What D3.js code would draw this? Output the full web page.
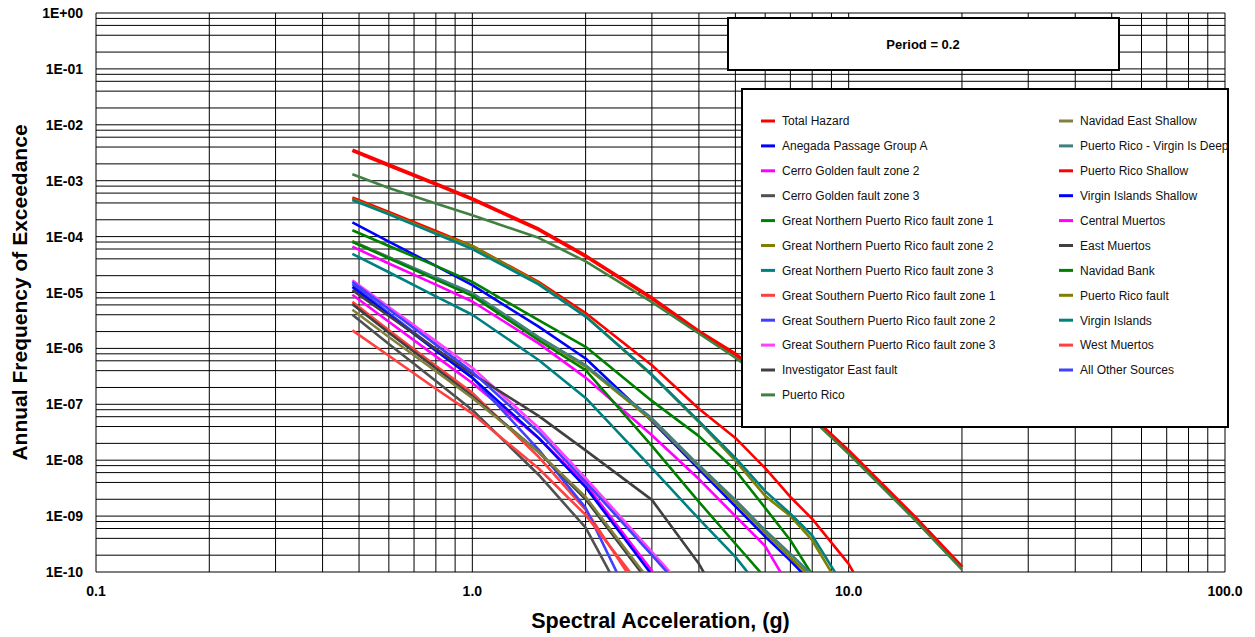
<!DOCTYPE html>
<html>
<head>
<meta charset="utf-8">
<script src="https://cdn.jsdelivr.net/npm/d3@7"></script>
<style>
  body { margin: 0; background: #fff; }
  svg { display: block; font-family: "Liberation Sans", Arial, sans-serif; }
</style>
</head>
<body>
<div id="chart"></div>
<script>
// spectral acceleration (g) at which the hazard values were read
var sa = [0.48, 0.6, 0.8, 1.0, 1.5, 2, 3, 4, 5, 6, 7, 8, 10, 15, 20];

// annual frequency of exceedance, one array per source (stops once below 1E-10)
var totalHazard = [3.5e-3, 1.9e-3, 8.7e-4, 4.7e-4, 1.35e-4, 4.5e-5, 7.9e-6, 2.0e-6, 7.9e-7, 3.0e-7, 1.25e-7, 5.9e-8, 1.45e-8, 9.5e-10, 1.23e-10];
var anegada = [1.8e-4, 8.1e-5, 3.0e-5, 1.35e-5, 2.45e-6, 6.6e-7, 5.0e-8, 6.9e-9, 1.5e-9, 4.3e-10, 1.6e-10, 6.3e-11];
var cerroGolden2 = [9.1e-6, 3.0e-6, 7.2e-7, 2.4e-7, 2.5e-8, 3.7e-9, 1.05e-10, 3e-12];
var cerroGolden3 = [4.0e-6, 1.2e-6, 2.6e-7, 7.9e-8, 5.5e-9, 6.2e-10, 4e-12];
var gnpr1 = [1.3e-4, 6.8e-5, 3.0e-5, 1.55e-5, 3.2e-6, 1.07e-6, 1.15e-7, 2.7e-8, 6.6e-9, 1.4e-9, 3.7e-10, 8.9e-11];
var gnpr2 = [8.3e-5, 4.3e-5, 1.8e-5, 9.3e-6, 1.55e-6, 4.7e-7, 5.2e-8, 7.6e-9, 1.74e-9, 5.0e-10, 1.8e-10, 7.9e-11];
var gnpr3 = [4.9e-5, 2.3e-5, 8.5e-6, 4.0e-6, 6.2e-7, 1.3e-7, 7.2e-9, 8.9e-10, 1.86e-10, 4.0e-11];
var gspr1 = [6.8e-6, 2.1e-6, 4.9e-7, 1.6e-7, 1.15e-8, 1.3e-9, 2.1e-11];
var gspr2 = [1.4e-5, 4.3e-6, 9.5e-7, 3.0e-7, 1.55e-8, 1.4e-9, 5e-12];
var gspr3 = [1.66e-5, 5.5e-6, 1.35e-6, 4.5e-7, 3.8e-8, 4.8e-9, 2.3e-10, 2.6e-11];
var investigatorEast = [6.2e-6, 1.9e-6, 4.4e-7, 1.4e-7, 1.4e-8, 2.0e-9, 5.5e-11];
var puertoRico = [1.3e-3, 7.4e-4, 3.9e-4, 2.4e-4, 9.5e-5, 3.6e-5, 6.7e-6, 1.85e-6, 6.8e-7, 2.7e-7, 1.15e-7, 5.4e-8, 1.3e-8, 8.5e-10, 1.1e-10];
var navidadEast = [4.9e-6, 1.6e-6, 3.9e-7, 1.3e-7, 1.4e-8, 2.2e-9, 6.2e-11];
var prVirginDeep = [8.1e-5, 4.3e-5, 1.86e-5, 9.8e-6, 1.6e-6, 5.0e-7, 5.6e-8, 8.1e-9, 1.95e-9, 5.6e-10, 2.1e-10, 8.9e-11];
var prShallow = [5.0e-4, 2.75e-4, 1.26e-4, 6.8e-5, 1.55e-5, 4.3e-6, 5.0e-7, 8.3e-8, 2.5e-8, 7.2e-9, 2.2e-9, 8.9e-10, 1.4e-10, 1e-12];
var viShallow = [1.26e-5, 4.0e-6, 9.1e-7, 3.0e-7, 2.5e-8, 3.3e-9, 8.9e-11];
var centralMuertos = [6.6e-5, 3.3e-5, 1.38e-5, 6.9e-6, 1.23e-6, 3.0e-7, 2.8e-8, 4.6e-9, 1.0e-9, 2.9e-10, 5.0e-11];
var eastMuertos = [1.1e-5, 3.8e-6, 9.8e-7, 3.5e-7, 6.2e-8, 1.5e-8, 1.95e-9, 1.4e-10, 1e-11];
var navidadBank = [8.1e-5, 4.1e-5, 1.7e-5, 8.7e-6, 1.4e-6, 4.1e-7, 1.8e-8, 1.8e-9, 3.2e-10, 7.9e-11];
var prFault = [4.7e-4, 2.6e-4, 1.17e-4, 6.8e-5, 1.48e-5, 3.8e-6, 3.3e-7, 4.8e-8, 9.8e-9, 2.3e-9, 1.0e-9, 3.7e-10, 3e-11];
var virginIslands = [4.5e-4, 2.5e-4, 1.12e-4, 6.0e-5, 1.4e-5, 3.7e-6, 3.4e-7, 5.0e-8, 1.1e-8, 2.8e-9, 1.1e-9, 4.5e-10, 4e-11];
var westMuertos = [2.1e-6, 7.4e-7, 1.9e-7, 6.8e-8, 7.1e-9, 1.05e-9, 3.1e-11];
var allOther = [1.55e-5, 5.0e-6, 1.17e-6, 3.8e-7, 3.2e-8, 4.1e-9, 2.0e-10, 2.3e-11];

var seriesNames = ["Total Hazard", "Anegada Passage Group A", "Cerro Golden fault zone 2", "Cerro Golden fault zone 3",
  "Great Northern Puerto Rico fault zone 1", "Great Northern Puerto Rico fault zone 2", "Great Northern Puerto Rico fault zone 3",
  "Great Southern Puerto Rico fault zone 1", "Great Southern Puerto Rico fault zone 2", "Great Southern Puerto Rico fault zone 3",
  "Investigator East fault", "Puerto Rico",
  "Navidad East Shallow", "Puerto Rico - Virgin Is Deep", "Puerto Rico Shallow", "Virgin Islands Shallow",
  "Central Muertos", "East Muertos", "Navidad Bank", "Puerto Rico fault", "Virgin Islands", "West Muertos", "All Other Sources"];
var seriesValues = [totalHazard, anegada, cerroGolden2, cerroGolden3, gnpr1, gnpr2, gnpr3, gspr1, gspr2, gspr3,
  investigatorEast, puertoRico, navidadEast, prVirginDeep, prShallow, viShallow, centralMuertos, eastMuertos,
  navidadBank, prFault, virginIslands, westMuertos, allOther];

var colors = ["#FF0000", "#0000FF", "#FF00FF", "#505050", "#008000", "#808000", "#008080", "#FF4040", "#4040FF",
  "#FF40FF", "#404040", "#408040", "#808040", "#408080", "#FF0000", "#0000FF", "#FF00FF", "#404040", "#008000",
  "#808000", "#008080", "#FF4040", "#4040FF"];

var xTicks = [0.1, 1, 10, 100];
var yTicks = [1, 1e-1, 1e-2, 1e-3, 1e-4, 1e-5, 1e-6, 1e-7, 1e-8, 1e-9, 1e-10];

var width = 1255, height = 637;
var plotLeft = 96, plotRight = 1225, plotTop = 13, plotBottom = 572;

var x = d3.scaleLog().domain([0.1, 100]).range([plotLeft, plotRight]);
var y = d3.scaleLog().domain([1e-10, 1]).range([plotBottom, plotTop]);

var svg = d3.select("#chart").append("svg")
  .attr("width", width)
  .attr("height", height);

var defs = svg.append("defs");
defs.append("clipPath").attr("id", "plotclip")
  .append("rect").attr("x", plotLeft).attr("y", plotTop)
  .attr("width", plotRight - plotLeft).attr("height", plotBottom - plotTop);

// grid: x at 1..9 per decade, y at 1,2,4,6,8 per decade
var xGrid = [];
[0.1, 1, 10].forEach(function(d) { for (var k = 1; k < 10; k++) xGrid.push(d * k); });
xGrid.push(100);
var yGrid = [];
for (var e = -10; e < 0; e++) [1, 2, 4, 6, 8].forEach(function(k) { yGrid.push(k * Math.pow(10, e)); });
yGrid.push(1);

var grid = svg.append("g");
grid.selectAll("line.gx").data(xGrid).enter().append("line")
  .attr("x1", d => x(d)).attr("x2", d => x(d))
  .attr("y1", plotTop).attr("y2", plotBottom)
  .attr("stroke", "#000").attr("stroke-width", 1);
grid.selectAll("line.gy").data(yGrid).enter().append("line")
  .attr("y1", d => y(d)).attr("y2", d => y(d))
  .attr("x1", plotLeft).attr("x2", plotRight)
  .attr("stroke", "#000").attr("stroke-width", 1);

// tick labels
svg.append("g").selectAll("text").data(yTicks).enter().append("text")
  .attr("x", 83).attr("y", d => y(d) + 5)
  .attr("text-anchor", "end")
  .style("font-size", "14px").style("font-weight", "bold")
  .text(function(d) {
    var ex = Math.round(Math.log10(d));
    return "1E" + (ex >= 0 ? "+" : "-") + String(Math.abs(ex)).padStart(2, "0");
  });

svg.append("g").selectAll("text").data(xTicks).enter().append("text")
  .attr("x", d => x(d)).attr("y", 596)
  .attr("text-anchor", "middle")
  .style("font-size", "14px").style("font-weight", "bold")
  .text(d => d3.format(".1f")(d));

// axis titles
svg.append("text")
  .attr("x", (plotLeft + plotRight) / 2).attr("y", 628)
  .attr("text-anchor", "middle")
  .style("font-size", "21.5px").style("font-weight", "bold")
  .text("Spectral Acceleration, (g)");

svg.append("text")
  .attr("transform", "translate(27," + (plotTop + plotBottom) / 2 + ") rotate(-90)")
  .attr("text-anchor", "middle")
  .style("font-size", "21px").style("font-weight", "bold")
  .text("Annual Frequency of Exceedance");

// curves
var line = d3.line()
  .x(d => x(d[0]))
  .y(d => y(d[1]));

var curves = svg.append("g").attr("clip-path", "url(#plotclip)");
seriesValues.forEach(function(vals, i) {
  var pts = vals.map(function(v, j) { return [sa[j], v]; });
  curves.append("path")
    .attr("d", line(pts))
    .attr("fill", "none")
    .attr("stroke", colors[i])
    .attr("stroke-width", i === 0 ? 3.8 : 2.6)
    .attr("stroke-linejoin", "round");
});

// period box
svg.append("rect")
  .attr("x", 728).attr("y", 18).attr("width", 391).attr("height", 52)
  .attr("fill", "#fff").attr("stroke", "#000").attr("stroke-width", 2);
svg.append("text")
  .attr("x", 923).attr("y", 48.5)
  .attr("text-anchor", "middle")
  .style("font-size", "13px").style("font-weight", "bold")
  .text("Period = 0.2");

// legend
var lgX = 742, lgY = 89, lgW = 486, lgH = 338;
defs.append("clipPath").attr("id", "legclip")
  .append("rect").attr("x", lgX).attr("y", lgY).attr("width", lgW).attr("height", lgH);
svg.append("rect")
  .attr("x", lgX).attr("y", lgY).attr("width", lgW).attr("height", lgH)
  .attr("fill", "#fff").attr("stroke", "#000").attr("stroke-width", 2);

var legend = svg.append("g").attr("clip-path", "url(#legclip)");
seriesNames.forEach(function(name, i) {
  var col = i < 12 ? 0 : 1;
  var row = i < 12 ? i : i - 12;
  var lx = col === 0 ? 761 : 1059;
  var ly = 121 + row * 24.9;
  legend.append("line")
    .attr("x1", lx).attr("x2", lx + 14)
    .attr("y1", ly).attr("y2", ly)
    .attr("stroke", colors[i]).attr("stroke-width", 3);
  legend.append("text")
    .attr("x", lx + 21).attr("y", ly + 4.3)
    .style("font-size", "12px")
    .attr("fill", "#111")
    .text(name);
});
</script>
</body>
</html>
